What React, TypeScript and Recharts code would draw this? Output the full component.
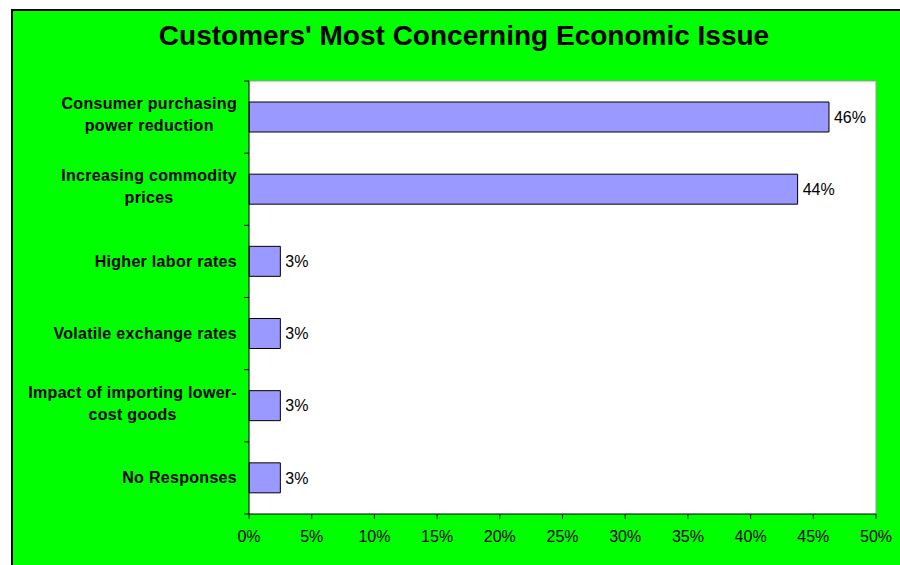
import { BarChart, Bar, XAxis, YAxis, CartesianGrid, LabelList } from 'recharts';

const categories = [
  'Consumer purchasing power reduction',
  'Increasing commodity prices',
  'Higher labor rates',
  'Volatile exchange rates',
  'Impact of importing lower-cost goods',
  'No Responses',
];
const shares = [46.25, 43.75, 2.5, 2.5, 2.5, 2.5];
const xTicks = [0, 5, 10, 15, 20, 25, 30, 35, 40, 45, 50];

const data = categories.map((name, i) => ({ name, value: shares[i] }));

const FONT = '"Liberation Sans", Arial, Helvetica, sans-serif';
const WIDTH = 900;
const HEIGHT = 565;
const MARGIN = { top: 81, right: 24, bottom: 21, left: 12 };
const X_AXIS_H = 30;
const BAND_HALF = (HEIGHT - MARGIN.top - MARGIN.bottom - X_AXIS_H) / categories.length / 2;

let ctx: CanvasRenderingContext2D | null = null;
const measure = (s: string) => {
  if (!ctx) ctx = document.createElement('canvas').getContext('2d');
  if (!ctx) return s.length * 9;
  ctx.font = `bold 16px ${FONT}`;
  return ctx.measureText(s).width + 0.3 * s.length;
};

// greedy wrap, allowing breaks after hyphens
const wrap = (label: string, maxW: number) => {
  const tokens = label.match(/[^\s-]+-?/g) || [label];
  const lines: string[] = [];
  let line = '';
  tokens.forEach((tok) => {
    const next = line ? line + (line.endsWith('-') ? '' : ' ') + tok : tok;
    if (line && measure(next) > maxW) {
      lines.push(line);
      line = tok;
    } else {
      line = next;
    }
  });
  if (line) lines.push(line);
  return lines;
};

const CategoryTick = ({ x, y, payload, index }: any) => {
  const lines = wrap(payload.value, 215);
  const blockW = Math.max(...lines.map(measure));
  const cx = x - blockW / 2;
  const firstY = y + 5.5 - (lines.length - 1) * 13.5;
  return (
    <g>
      <line x1={x + 7} x2={x + 12} y1={y - BAND_HALF} y2={y - BAND_HALF} stroke="#000" />
      {index === categories.length - 1 && (
        <line x1={x + 7} x2={x + 12} y1={y + BAND_HALF} y2={y + BAND_HALF} stroke="#000" />
      )}
      <text
        x={cx}
        y={firstY}
        textAnchor="middle"
        fontFamily={FONT}
        fontWeight="bold"
        fontSize={16}
        letterSpacing={0.3}
        fill="#000"
      >
        {lines.map((l, i) => (
          <tspan key={i} x={cx} dy={i === 0 ? 0 : 22}>
            {l}
          </tspan>
        ))}
      </text>
    </g>
  );
};

export default function App() {
  return (
    <div style={{ position: 'fixed', left: 0, top: 0, width: WIDTH, height: HEIGHT, background: '#fff' }}>
      <div
        style={{
          position: 'absolute',
          left: 11,
          top: 9,
          width: WIDTH - 11,
          height: HEIGHT - 9,
          boxSizing: 'border-box',
          background: '#00ff00',
          borderLeft: '2px solid #000',
          borderTop: '2px solid #000',
        }}
      />
      <svg width={WIDTH} height={60} style={{ position: 'absolute', left: 0, top: 0 }}>
        <text x={464} y={45} textAnchor="middle" fontFamily={FONT} fontWeight="bold" fontSize={28} fill="#000">
          Customers' Most Concerning Economic Issue
        </text>
      </svg>
      <div style={{ position: 'absolute', left: 0, top: 0 }}>
        <BarChart width={WIDTH} height={HEIGHT} data={data} layout="vertical" margin={MARGIN}>
          {/* white plot area with grey top / right frame */}
          <CartesianGrid
            fill="#fff"
            stroke="#999"
            horizontalCoordinatesGenerator={({ offset }: any) => [offset.top]}
            verticalCoordinatesGenerator={({ offset }: any) => [offset.left + offset.width]}
          />
          <XAxis
            type="number"
            domain={[0, 50]}
            ticks={xTicks}
            interval={0}
            height={X_AXIS_H}
            tickFormatter={(v: number) => `${v}%`}
            tick={{ fontSize: 16, fill: '#000', fontFamily: FONT }}
            tickSize={5}
            tickMargin={12}
            tickLine={{ stroke: '#000' }}
            axisLine={{ stroke: '#000' }}
          />
          <YAxis
            type="category"
            dataKey="name"
            width={237}
            interval={0}
            tick={<CategoryTick />}
            tickSize={5}
            tickMargin={7}
            tickLine={false}
            axisLine={{ stroke: '#000' }}
          />
          <Bar dataKey="value" fill="#9999ff" stroke="#000" strokeWidth={1} barSize={30} isAnimationActive={false}>
            <LabelList
              dataKey="value"
              position="right"
              offset={5}
              formatter={(v: any) => `${Math.round(Number(v))}%`}
              style={{ fontSize: 16, fill: '#000', fontFamily: FONT }}
            />
          </Bar>
        </BarChart>
      </div>
    </div>
  );
}
